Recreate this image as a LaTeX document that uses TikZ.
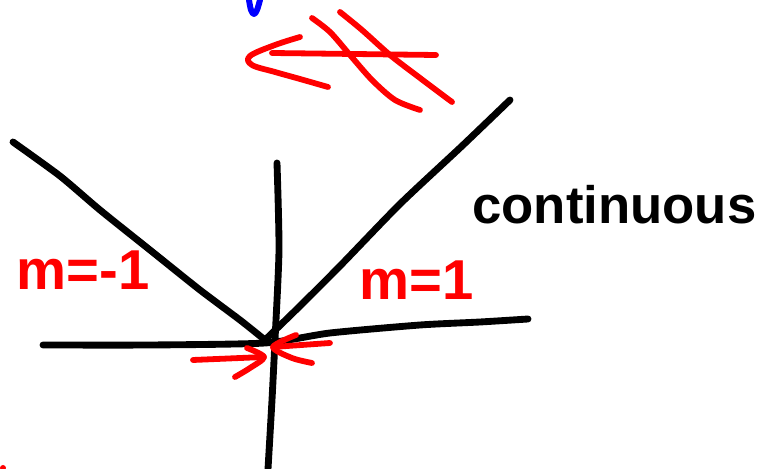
\documentclass[tikz,border=0pt]{standalone}
\usepackage{fontspec}
\setmainfont{Liberation Sans}
\usetikzlibrary{positioning}
\definecolor{inkblack}{HTML}{000000}
\definecolor{inkred}{HTML}{FF0000}
\definecolor{inkblue}{HTML}{0000FF}

\tikzset{
  pen/.style={inkblack, line width=3.9pt, line cap=round, line join=round},
  redpen/.style={inkred, line width=3.3pt, line cap=round, line join=round},
  bluepen/.style={inkblue, line width=3.4pt, line cap=round, line join=round},
  redlabel/.style={text=inkred, font=\fontsize{32}{36}\selectfont\bfseries, inner sep=0pt}
}

\begin{document}
\begin{tikzpicture}[x=0.02cm, y=-0.02cm]

% Canvas (pixel grid, y downwards)
\useasboundingbox (0,0) rectangle (772,469);

% Blue stroke at top edge
\draw[bluepen, smooth, tension=0.6] plot coordinates {(249,0) (251,10) (254,14) (257,10) (260,0)};

% Crossed-out arrow
\draw[redpen] (436,55) -- (272,53);
\draw[redpen, smooth, tension=0.6] plot coordinates {(300,37) (275,45) (250,56) (252,65) (275,72) (300,79) (328,87)};
\draw[redpen, smooth, tension=0.5] plot coordinates {(312,18) (330,32) (350,55) (372,80) (395,100) (420,110)};
\draw[redpen, smooth, tension=0.5] plot coordinates {(340,12) (362,30) (390,55) (420,78) (452,102)};

% Axes
\draw[pen, smooth, tension=0.4] plot coordinates {(277,163) (279,250) (275,340) (272,400) (268,469)};
\draw[pen, smooth, tension=0.4] plot coordinates {(43,345) (150,345) (265,343) (330,333) (420,325) (480,322) (528,319)};

% V shaped graph
\draw[pen, smooth, tension=0.4] plot coordinates {(13,142) (60,176) (100,210) (150,250) (200,290) (240,320) (265,340)};
\draw[pen, smooth, tension=0.4] plot coordinates {(510,100) (462,146) (400,204) (340,266) (300,306) (265,340)};

% Arrows meeting at the corner
\draw[redpen] (193,360) -- (264,357);
\draw[redpen, smooth, tension=0.5] plot coordinates {(247,348) (264,357) (250,368) (235,377)};
\draw[redpen] (330,343) -- (273,347);
\draw[redpen, smooth, tension=0.5] plot coordinates {(296,335) (273,347) (292,358) (312,363)};

% Stray red dot
\fill[inkred] (3,468) circle (3);

% Labels
\node[redlabel] (slopeleft) at (83,270) {m=-1};
\node[redlabel] (sloperight) at (417,280) {m=1};
\node[text=inkblack, font=\fontsize{30}{36}\selectfont\bfseries, inner sep=0pt, anchor=west] (cont) at (472,205) {continuous};

\end{tikzpicture}
\end{document}
